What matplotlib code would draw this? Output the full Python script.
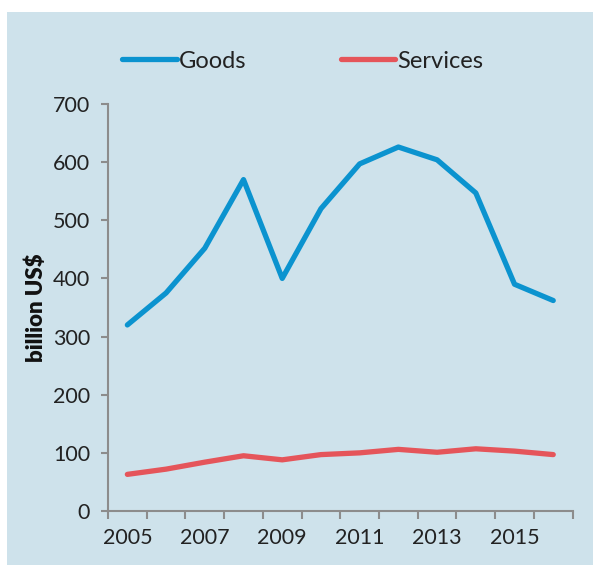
import matplotlib.pyplot as plt
from matplotlib.patches import Rectangle

years = [2005, 2006, 2007, 2008, 2009, 2010, 2011, 2012, 2013, 2014, 2015, 2016]
goods = [320, 375, 452, 570, 400, 520, 597, 626, 604, 547, 390, 362]
services = [63, 72, 84, 95, 88, 97, 100, 106, 101, 107, 103, 97]
year_labels = ['2005', '2007', '2009', '2011', '2013', '2015']
y_ticks = [0, 100, 200, 300, 400, 500, 600, 700]

bg = '#cee2eb'
axis_grey = '#8c8c8c'
plt.rcParams['font.family'] = ['Lato', 'DejaVu Sans']

fig = plt.figure(figsize=(5.93, 5.65), dpi=100)
fig.patch.set_facecolor('white')
# light blue panel behind the chart
fig.patches.append(Rectangle((7 / 593, 0), 1, 1 - 12 / 565, transform=fig.transFigure,
                             facecolor=bg, edgecolor='none', zorder=-1))

ax = fig.add_axes([108 / 593, 1 - 511 / 565, (572.6 - 108) / 593, (511 - 104) / 565])
ax.set_facecolor('none')
ax.set_zorder(1)

x = list(range(len(years)))
ax.plot(x, goods, color='#0b93cf', lw=3.8, solid_capstyle='round', solid_joinstyle='round', label='Goods')
ax.plot(x, services, color='#e5555a', lw=3.8, solid_capstyle='round', solid_joinstyle='round', label='Services')

ax.set_xlim(-0.5, len(years) - 0.5)
ax.set_ylim(0, 700)

# tick marks between categories, labels on every other year
ax.set_xticks([i - 0.5 for i in range(len(years) + 1)])
ax.set_xticklabels([])
label_pos = [years.index(int(y)) for y in year_labels]
ax.set_xticks(label_pos, minor=True)
ax.set_xticklabels(year_labels, minor=True)
ax.tick_params(axis='x', which='major', length=6, width=1.5, color=axis_grey, direction='out')
ax.tick_params(axis='x', which='minor', length=0, pad=12, labelsize=15.5, labelcolor='#222222')

ax.set_yticks(y_ticks)
ax.tick_params(axis='y', length=5, width=1.5, color=axis_grey, direction='out', pad=8,
               labelsize=15.5, labelcolor='#222222')

for s in ['top', 'right']:
    ax.spines[s].set_visible(False)
for s in ['left', 'bottom']:
    ax.spines[s].set_color(axis_grey)
    ax.spines[s].set_linewidth(1.5)

ax.set_ylabel('billion US$', fontsize=16, fontweight='heavy', color='#111111', labelpad=4)

fig.legend(loc='center', bbox_to_anchor=(303 / 593, 1 - 61 / 565), ncol=2, frameon=False,
           fontsize=17, handlelength=2.3, handletextpad=0.1, columnspacing=4.0,
           labelcolor='#222222')

fig.savefig('out.png', dpi=100, facecolor='white')
